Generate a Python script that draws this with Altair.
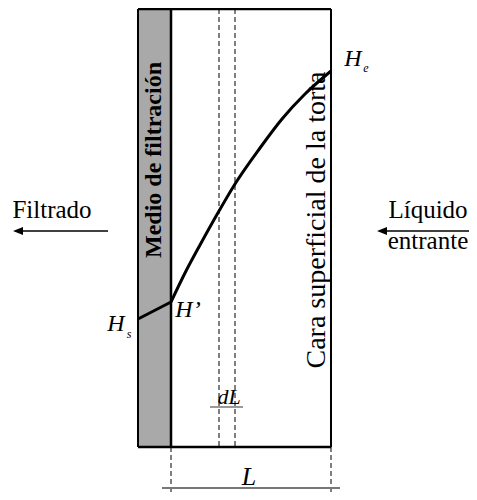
import altair as alt
import pandas as pd

FONT = "Liberation Serif"

# frame of the cake and filter medium
medium_x = [138, 171]
frame_y = [9, 447]

# solid frame lines: x, y, x2, y2, stroke width
solid_x = [138, 138, 138, 171, 331]
solid_y = [9, 447, 9, 9, 9]
solid_x2 = [331, 331, 138, 171, 331]
solid_y2 = [9, 447, 447, 447, 447]
solid_w = [2.5, 2.5, 2, 2.5, 2]

# dashed guide lines
dash_x = [219, 235, 171, 331]
dash_y = [9, 9, 447, 447]
dash_y2 = [447, 447, 500, 500]

# gray dimension lines
gray_x = [162, 210]
gray_x2 = [340, 243]
gray_y = [488, 407]
gray_w = [2, 1.5]

# arrows
arrow_x = [20, 386]
arrow_x2 = [108, 469]
arrow_y = [231, 231]
head_x = [18, 382]

# pressure profile
seg_x = [138, 171]
seg_y = [319, 302]
curve_x = [171, 185, 200, 219, 235, 260, 282, 305, 331]
curve_y = [302, 273, 245, 211, 184, 148, 119, 94, 71]

# text
plain_text = ["Filtrado", "Líquido", "entrante"]
plain_x = [52, 428, 428]
plain_y = [218, 218, 249]
plain_size = [25, 25, 25]

ital_text = ["H", "H", "H’", "L", "dL"]
ital_x = [353, 116, 188, 249, 229]
ital_y = [66, 331, 317, 485, 404]
ital_size = [24, 24, 24, 26, 22]

sub_text = ["e", "s"]
sub_x = [366, 129]
sub_y = [72, 338]

W, H = 461, 484
xs = alt.Scale(domain=[8, 8 + W], nice=False, zero=False)
ys = alt.Scale(domain=[8, 8 + H], nice=False, zero=False, reverse=True)
X = lambda f: alt.X(f, type="quantitative", scale=xs, axis=None)
Y = lambda f: alt.Y(f, type="quantitative", scale=ys, axis=None)

medium = alt.Chart(pd.DataFrame({"x": [medium_x[0]], "x2": [medium_x[1]],
                                 "y": [frame_y[0]], "y2": [frame_y[1]]})).mark_rect(
    fill="#a9a9a9").encode(x=X("x"), x2="x2", y=Y("y"), y2="y2")

solid = alt.Chart(pd.DataFrame({"x": solid_x, "y": solid_y, "x2": solid_x2,
                                "y2": solid_y2, "w": solid_w})).mark_rule(
    color="black").encode(x=X("x"), x2="x2", y=Y("y"), y2="y2",
                          strokeWidth=alt.StrokeWidth("w:Q", scale=None))

dashed = alt.Chart(pd.DataFrame({"x": dash_x, "y": dash_y, "y2": dash_y2})).mark_rule(
    color="black", strokeWidth=1, strokeDash=[5, 3]).encode(
    x=X("x"), y=Y("y"), y2="y2")

gray = alt.Chart(pd.DataFrame({"x": gray_x, "x2": gray_x2, "y": gray_y, "w": gray_w})).mark_rule(
    color="#777777").encode(x=X("x"), x2="x2", y=Y("y"),
                            strokeWidth=alt.StrokeWidth("w:Q", scale=None))

arrows = alt.Chart(pd.DataFrame({"x": arrow_x, "x2": arrow_x2, "y": arrow_y})).mark_rule(
    color="black", strokeWidth=1.5).encode(x=X("x"), x2="x2", y=Y("y"))

heads = alt.Chart(pd.DataFrame({"x": head_x, "y": arrow_y})).mark_point(
    shape="M -1 0 L 1 -0.8 L 1 0.8 Z", size=100, filled=True, color="black",
    opacity=1, strokeWidth=0).encode(x=X("x"), y=Y("y"))

seg = alt.Chart(pd.DataFrame({"x": seg_x, "y": seg_y})).mark_line(
    color="black", strokeWidth=3).encode(x=X("x"), y=Y("y"))

curve = alt.Chart(pd.DataFrame({"x": curve_x, "y": curve_y})).mark_line(
    color="black", strokeWidth=3, interpolate="monotone").encode(x=X("x"), y=Y("y"))

plain = alt.Chart(pd.DataFrame({"t": plain_text, "x": plain_x, "y": plain_y, "s": plain_size})).mark_text(
    font=FONT, color="black", align="center", baseline="alphabetic").encode(
    x=X("x"), y=Y("y"), text="t:N", size=alt.Size("s:Q", scale=None))

ital = alt.Chart(pd.DataFrame({"t": ital_text, "x": ital_x, "y": ital_y, "s": ital_size})).mark_text(
    font=FONT, fontStyle="italic", color="black", align="center", baseline="alphabetic").encode(
    x=X("x"), y=Y("y"), text="t:N", size=alt.Size("s:Q", scale=None))

sub = alt.Chart(pd.DataFrame({"t": sub_text, "x": sub_x, "y": sub_y})).mark_text(
    font=FONT, fontStyle="italic", fontSize=12, color="black", align="center",
    baseline="alphabetic").encode(x=X("x"), y=Y("y"), text="t:N")

medio = alt.Chart(pd.DataFrame({"t": ["Medio de filtración"], "x": [161], "y": [160]})).mark_text(
    font=FONT, fontSize=24, fontWeight="bold", angle=270, color="black", align="center",
    baseline="alphabetic").encode(x=X("x"), y=Y("y"), text="t:N")

cara = alt.Chart(pd.DataFrame({"t": ["Cara superficial de la torta"], "x": [325], "y": [220]})).mark_text(
    font=FONT, fontSize=28, angle=270, color="black", align="center",
    baseline="alphabetic").encode(x=X("x"), y=Y("y"), text="t:N")

chart = alt.layer(medium, dashed, solid, gray, arrows, heads, seg, curve,
                  plain, ital, sub, medio, cara).properties(
    width=W, height=H, autosize=alt.AutoSizeParams(type="none"), padding=0
).configure_view(stroke=None)

chart.save("out.html", embed_options={"renderer": "svg", "actions": False})
